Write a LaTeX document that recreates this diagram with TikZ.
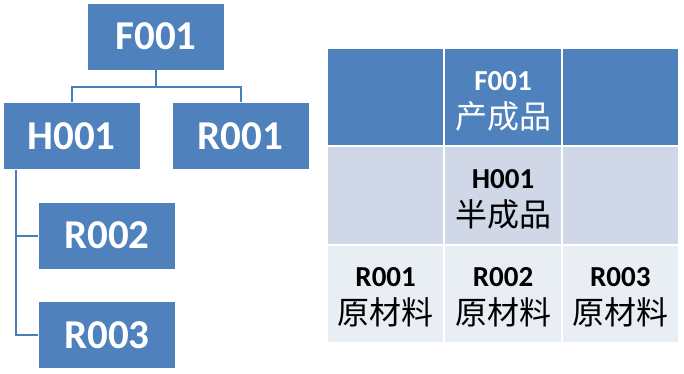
\documentclass[tikz,border=0pt]{standalone}
\usepackage{fontspec}
\setmainfont{Carlito}
\newfontfamily\cjk{Noto Sans CJK SC}
\usetikzlibrary{calc}
\definecolor{boxblue}{HTML}{4F81BD}
\definecolor{linkblue}{HTML}{4A7EBB}
\definecolor{rowmid}{HTML}{D0D8E8}
\definecolor{rowlight}{HTML}{E9EDF4}
\newcommand{\cellcode}[2]{\textbf{#1}\\{\cjk\fontsize{32}{38}\selectfont #2}}
\begin{document}
\begin{tikzpicture}[x=1pt,y=-1pt,
  orgbox/.style={rectangle, fill=boxblue, draw=white, line width=0.8pt,
    minimum width=137pt, minimum height=67pt, inner sep=0pt, text=white,
    font=\fontsize{41}{44}\selectfont\bfseries},
  link/.style={draw=linkblue, line width=2pt},
  cell/.style={rectangle, draw=white, line width=2pt, minimum width=117.33pt,
    minimum height=98pt, inner sep=0pt},
  celltext/.style={align=center, inner sep=0pt, font=\fontsize{29}{38}\selectfont},
  toprow/.style={cell, fill=boxblue},
  midrow/.style={cell, fill=rowmid},
  lowrow/.style={cell, fill=rowlight}]
\useasboundingbox (0,0) rectangle (684,374);
% tree
\node[orgbox] (F001) at (156,36.5) {F001};
\node[orgbox] (H001) at (71.5,136) {H001};
\node[orgbox] (R001) at (240.5,136) {R001};
\node[orgbox] (R002) at (107,235.5) {R002};
\node[orgbox] (R003) at (107,335) {R003};
\coordinate (bus) at ($(F001.south)+(0,17)$);
\draw[link] (F001.south) -- (bus);
\draw[link] (bus) -| (H001.north);
\draw[link] (bus) -| (R001.north);
\coordinate (hdrop) at ($(H001.south west)+(13,0)$);
\draw[link] (hdrop) |- (R002.west);
\draw[link] (hdrop) |- (R003.west);
% table
\node[toprow] (c11) at (385.67,97.5) {};
\node[toprow] (c12) at (503,97.5) {};
\node[toprow] (c13) at (620.33,97.5) {};
\node[midrow] (c21) at (385.67,195.5) {};
\node[midrow] (c22) at (503,195.5) {};
\node[midrow] (c23) at (620.33,195.5) {};
\node[lowrow] (c31) at (385.67,293.5) {};
\node[lowrow] (c32) at (503,293.5) {};
\node[lowrow] (c33) at (620.33,293.5) {};
\node[celltext, text=white] (t12) at ($(c12.center)+(0,4)$) {\cellcode{F001}{产成品}};
\node[celltext, text=black] (t22) at ($(c22.center)+(0,4)$) {\cellcode{H001}{半成品}};
\node[celltext, text=black] (t31) at ($(c31.center)+(0,4)$) {\cellcode{R001}{原材料}};
\node[celltext, text=black] (t32) at ($(c32.center)+(0,4)$) {\cellcode{R002}{原材料}};
\node[celltext, text=black] (t33) at ($(c33.center)+(0,4)$) {\cellcode{R003}{原材料}};
\end{tikzpicture}
\end{document}
